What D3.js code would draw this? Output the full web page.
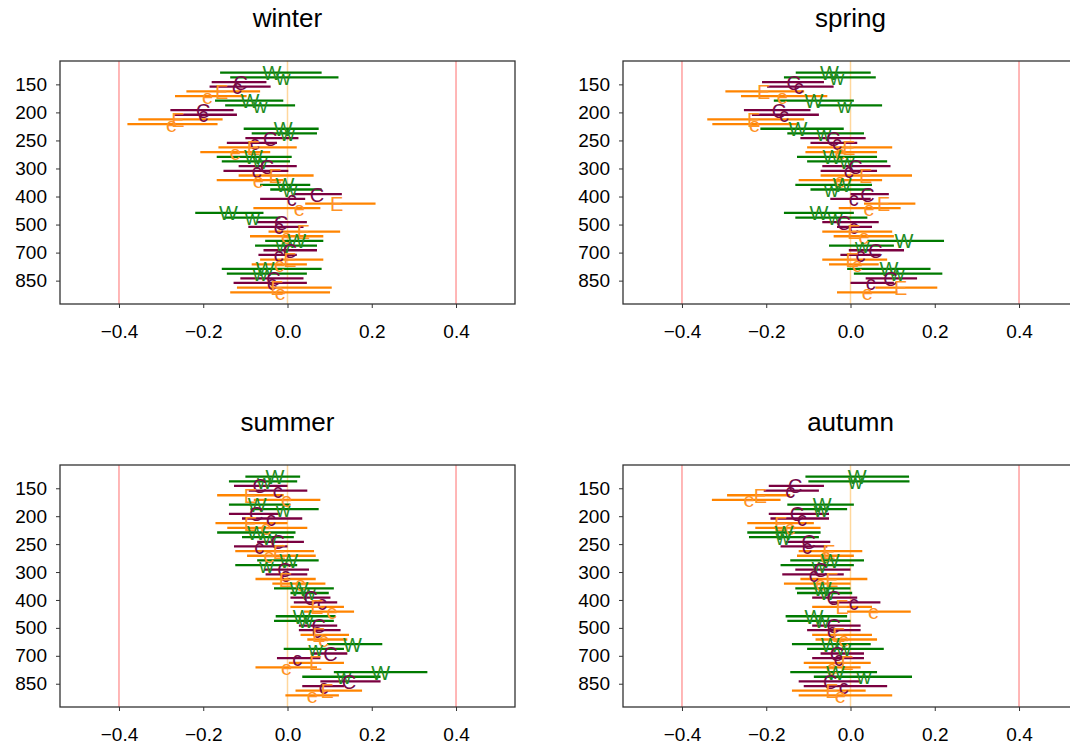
<!DOCTYPE html>
<html>
<head>
<meta charset="utf-8">
<script src="https://cdn.jsdelivr.net/npm/d3@7"></script>
<style>
  body { margin: 0; background: #fff; }
  text { font-family: "Liberation Sans", Arial, sans-serif; }
</style>
</head>
<body>
<script>
// Width and height
var w = 1070;
var h = 750;

// Pressure levels, series letters and x ticks
var levels = [150, 200, 250, 300, 400, 500, 700, 850];
var series = ["W", "w", "C", "c", "E", "e"];
var xTicks = [-0.4, -0.2, 0.0, 0.2, 0.4];
var refLines = [-0.4, 0.4];

// Estimates per level, columns W w C c E e
var winterEst = [
  [-0.037, -0.010, -0.111, -0.120, -0.156, -0.190],
  [-0.089, -0.065, -0.200, -0.200, -0.260, -0.275],
  [-0.010,  0.000, -0.041, -0.078, -0.081, -0.124],
  [-0.081, -0.065, -0.049, -0.073, -0.029, -0.069],
  [-0.006,  0.006,  0.070,  0.010,  0.117,  0.028],
  [-0.140, -0.083, -0.015, -0.021,  0.038, -0.002],
  [ 0.022, -0.010,  0.006, -0.021,  0.006, -0.019],
  [-0.053, -0.065, -0.033, -0.037, -0.025, -0.017]
];
var winterLo = [
  [-0.160, -0.136, -0.180, -0.185, -0.240, -0.267],
  [-0.172, -0.148, -0.278, -0.270, -0.354, -0.380],
  [-0.104, -0.085, -0.100, -0.144, -0.164, -0.207],
  [-0.168, -0.156, -0.116, -0.152, -0.116, -0.168],
  [-0.065, -0.041,  0.014, -0.065,  0.042, -0.081],
  [-0.219, -0.150, -0.073, -0.093, -0.045, -0.089],
  [-0.053, -0.077, -0.057, -0.069, -0.065, -0.085],
  [-0.156, -0.144, -0.112, -0.128, -0.120, -0.136]
];
var winterHi = [
  [ 0.081,  0.121, -0.050, -0.040, -0.065, -0.097],
  [-0.010,  0.018, -0.128, -0.120, -0.154, -0.166],
  [ 0.074,  0.070,  0.026, -0.025,  0.022, -0.041],
  [ 0.010,  0.006,  0.022,  0.002,  0.062, -0.010],
  [ 0.054,  0.081,  0.129,  0.042,  0.209,  0.078],
  [-0.057, -0.017,  0.046,  0.038,  0.125,  0.085],
  [ 0.085,  0.070,  0.070,  0.022,  0.085,  0.046],
  [ 0.081,  0.046,  0.038,  0.046,  0.105,  0.101]
];

var springEst = [
  [-0.050, -0.032, -0.135, -0.123, -0.206, -0.162],
  [-0.087, -0.014, -0.170, -0.158, -0.230, -0.228],
  [-0.125, -0.063, -0.041, -0.032, -0.004, -0.024],
  [-0.044, -0.008,  0.012, -0.004,  0.036, -0.024],
  [-0.020, -0.045,  0.040,  0.008,  0.079,  0.044],
  [-0.075, -0.036, -0.016,  0.008,  0.008,  0.032],
  [ 0.127,  0.028,  0.059,  0.024,  0.004,  0.016],
  [ 0.091,  0.111,  0.095,  0.048,  0.119,  0.040]
];
var springLo = [
  [-0.130, -0.158, -0.210, -0.198, -0.297, -0.260],
  [-0.182, -0.080, -0.253, -0.234, -0.340, -0.328],
  [-0.214, -0.150, -0.119, -0.095, -0.103, -0.107],
  [-0.127, -0.103, -0.067, -0.071, -0.071, -0.123],
  [-0.131, -0.095,  0.000, -0.048,  0.032, -0.028],
  [-0.158, -0.131, -0.067, -0.032, -0.067, -0.040],
  [ 0.040, -0.051, -0.004, -0.024, -0.067, -0.051],
  [-0.008,  0.008,  0.036,  0.000,  0.059, -0.032]
];
var springHi = [
  [ 0.048,  0.060, -0.063, -0.040, -0.110, -0.055],
  [ 0.008,  0.075, -0.095, -0.075, -0.110, -0.123],
  [-0.016,  0.032,  0.036,  0.016,  0.099,  0.063],
  [ 0.063,  0.087,  0.095,  0.063,  0.146,  0.075],
  [ 0.051,  0.048,  0.091,  0.048,  0.154,  0.119],
  [ 0.008,  0.040,  0.067,  0.051,  0.099,  0.103],
  [ 0.222,  0.103,  0.127,  0.071,  0.087,  0.067],
  [ 0.190,  0.218,  0.158,  0.103,  0.206,  0.111]
];

var summerEst = [
  [-0.030, -0.055, -0.066, -0.023, -0.088, -0.002],
  [-0.072, -0.010, -0.074, -0.039, -0.088, -0.051],
  [-0.074, -0.042, -0.023, -0.067, -0.019, -0.044],
  [ 0.003, -0.050, -0.007, -0.005, -0.005,  0.031],
  [ 0.027,  0.050,  0.055,  0.082,  0.070,  0.106],
  [ 0.035,  0.043,  0.074,  0.070,  0.074,  0.086],
  [ 0.154,  0.067,  0.102,  0.023,  0.067, -0.002],
  [ 0.221,  0.134,  0.146,  0.086,  0.094,  0.059]
];
var summerLo = [
  [-0.100, -0.139, -0.127, -0.092, -0.167, -0.080],
  [-0.139, -0.088, -0.139, -0.108, -0.171, -0.143],
  [-0.167, -0.108, -0.072, -0.127, -0.124, -0.096],
  [-0.072, -0.124, -0.056, -0.052, -0.076, -0.036],
  [-0.032,  0.007,  0.007,  0.015,  0.007,  0.039],
  [-0.028, -0.032,  0.027,  0.027,  0.031,  0.047],
  [ 0.094, -0.009,  0.055, -0.025,  0.003, -0.076],
  [ 0.110,  0.035,  0.078,  0.035,  0.019, -0.005]
];
var summerHi = [
  [ 0.030,  0.023,  0.000,  0.047, -0.009,  0.078],
  [ 0.007,  0.074, -0.017,  0.035,  0.000,  0.047],
  [ 0.019,  0.015,  0.039,  0.000,  0.063,  0.067],
  [ 0.074,  0.023,  0.051,  0.047,  0.067,  0.090],
  [ 0.110,  0.098,  0.102,  0.118,  0.134,  0.158],
  [ 0.114,  0.110,  0.118,  0.126,  0.146,  0.142],
  [ 0.225,  0.134,  0.142,  0.078,  0.134,  0.070],
  [ 0.332,  0.221,  0.221,  0.134,  0.177,  0.122]
];

var autumnEst = [
  [ 0.016,  0.012, -0.131, -0.143, -0.214, -0.241],
  [-0.067, -0.070, -0.127, -0.115, -0.166, -0.143],
  [-0.158, -0.160, -0.099, -0.103, -0.051, -0.059],
  [-0.048, -0.075, -0.071, -0.087, -0.044, -0.071],
  [-0.067, -0.055, -0.040,  0.008, -0.020,  0.055],
  [-0.087, -0.067, -0.040, -0.044, -0.028, -0.016],
  [-0.048, -0.016, -0.032, -0.028, -0.008, -0.044],
  [-0.036,  0.032, -0.048, -0.016, -0.044, -0.024]
];
var autumnLo = [
  [-0.107, -0.100, -0.194, -0.206, -0.293, -0.329],
  [-0.150, -0.135, -0.194, -0.190, -0.245, -0.226],
  [-0.245, -0.241, -0.154, -0.166, -0.123, -0.127],
  [-0.143, -0.166, -0.131, -0.162, -0.119, -0.158],
  [-0.131, -0.127, -0.091, -0.048, -0.091, -0.008],
  [-0.154, -0.150, -0.091, -0.103, -0.091, -0.083],
  [-0.139, -0.103, -0.071, -0.091, -0.111, -0.099],
  [-0.143, -0.087, -0.123, -0.111, -0.139, -0.123]
];
var autumnHi = [
  [ 0.139,  0.140, -0.063, -0.075, -0.143, -0.166],
  [ 0.008, -0.008, -0.051, -0.051, -0.087, -0.071],
  [-0.071, -0.075, -0.048, -0.055,  0.028,  0.008],
  [ 0.032,  0.008,  0.000, -0.016,  0.040,  0.000],
  [ 0.000,  0.004,  0.016,  0.071,  0.051,  0.143],
  [-0.008,  0.000,  0.024,  0.024,  0.051,  0.063],
  [ 0.048,  0.079,  0.032,  0.032,  0.048,  0.024],
  [ 0.063,  0.146,  0.024,  0.087,  0.036,  0.099]
];

// Colours per series
var lineColor = { W: "#007a00", w: "#007a00", C: "#7a0040", c: "#7a0040", E: "#ff8400", e: "#ff8400" };
var textColor = { W: "#1f8c1f", w: "#1f8c1f", C: "#760a48", c: "#760a48", E: "#ff9326", e: "#ff9326" };

// Panel frames
var panels = [
  { title: "winter", est: winterEst, lo: winterLo, hi: winterHi, x0: 60,  x1: 515,  y0: 61,  y1: 304 },
  { title: "spring", est: springEst, lo: springLo, hi: springHi, x0: 623, x1: 1078, y0: 61,  y1: 304 },
  { title: "summer", est: summerEst, lo: summerLo, hi: summerHi, x0: 60,  x1: 515,  y0: 465, y1: 707 },
  { title: "autumn", est: autumnEst, lo: autumnLo, hi: autumnHi, x0: 623, x1: 1078, y0: 465, y1: 707 }
];

// Create SVG element
var svg = d3.select("body")
            .append("svg")
            .attr("width", w)
            .attr("height", h);

panels.forEach(function(p) {
  var nS = series.length;

  // Create scale functions (rows 0..47, six rows per level)
  var xScale = d3.scaleLinear()
                 .domain([-0.54, 0.54])
                 .range([p.x0, p.x1]);

  var yScale = d3.scaleLinear()
                 .domain([-2.5, levels.length * nS + 1.5])
                 .range([p.y0, p.y1]);

  // Flatten rows
  var rows = [];
  levels.forEach(function(lev, i) {
    series.forEach(function(s, j) {
      rows.push({ s: s, r: i * nS + j, est: p.est[i][j], lo: p.lo[i][j], hi: p.hi[i][j] });
    });
  });

  var g = svg.append("g");

  // Reference lines
  g.selectAll("line.ref")
    .data(refLines)
    .enter()
    .append("line")
    .attr("x1", function(d) { return xScale(d); })
    .attr("x2", function(d) { return xScale(d); })
    .attr("y1", p.y0)
    .attr("y2", p.y1)
    .attr("stroke", "#ff9f9f")
    .attr("stroke-width", 1.5);

  g.append("line")
    .attr("x1", xScale(0))
    .attr("x2", xScale(0))
    .attr("y1", p.y0)
    .attr("y2", p.y1)
    .attr("stroke", "#ffd79c")
    .attr("stroke-width", 1.5);

  // Interval lines
  g.selectAll("line.ci")
    .data(rows)
    .enter()
    .append("line")
    .attr("x1", function(d) { return xScale(d.lo); })
    .attr("x2", function(d) { return xScale(d.hi); })
    .attr("y1", function(d) { return yScale(d.r); })
    .attr("y2", function(d) { return yScale(d.r); })
    .attr("stroke", function(d) { return lineColor[d.s]; })
    .attr("stroke-width", 2.3);

  // Letters at estimates
  g.selectAll("text.lab")
    .data(rows)
    .enter()
    .append("text")
    .text(function(d) { return d.s; })
    .attr("x", function(d) { return xScale(d.est); })
    .attr("y", function(d) { return yScale(d.r) + 7.5; })
    .attr("text-anchor", "middle")
    .attr("font-size", "20px")
    .attr("fill", function(d) { return textColor[d.s]; });

  // Box
  g.append("rect")
    .attr("x", p.x0)
    .attr("y", p.y0)
    .attr("width", p.x1 - p.x0)
    .attr("height", p.y1 - p.y0)
    .attr("fill", "none")
    .attr("stroke", "#333")
    .attr("stroke-width", 1.3);

  // Define axes
  var xAxis = d3.axisBottom()
                .scale(xScale)
                .tickValues(xTicks)
                .tickSize(4)
                .tickPadding(17)
                .tickFormat(d3.format(".1f"));

  var yAxis = d3.axisLeft()
                .scale(yScale)
                .tickValues(levels.map(function(d, i) { return i * nS + 2.5; }))
                .tickSize(4)
                .tickPadding(9)
                .tickFormat(function(d, i) { return levels[i]; });

  var gx = g.append("g")
    .attr("class", "axis")
    .attr("transform", "translate(0," + p.y1 + ")")
    .call(xAxis);

  var gy = g.append("g")
    .attr("class", "axis")
    .attr("transform", "translate(" + p.x0 + ",0)")
    .call(yAxis);

  [gx, gy].forEach(function(a) {
    a.select(".domain").remove();
    a.selectAll("line").attr("stroke", "#333");
    a.selectAll("text")
      .attr("font-size", "19px")
      .attr("font-family", "Liberation Sans, Arial, sans-serif")
      .attr("fill", "#000");
  });

  // Title
  g.append("text")
    .text(p.title)
    .attr("x", xScale(0))
    .attr("y", p.y0 - 34)
    .attr("text-anchor", "middle")
    .attr("font-size", "26px")
    .attr("fill", "#000");
});
</script>
</body>
</html>
